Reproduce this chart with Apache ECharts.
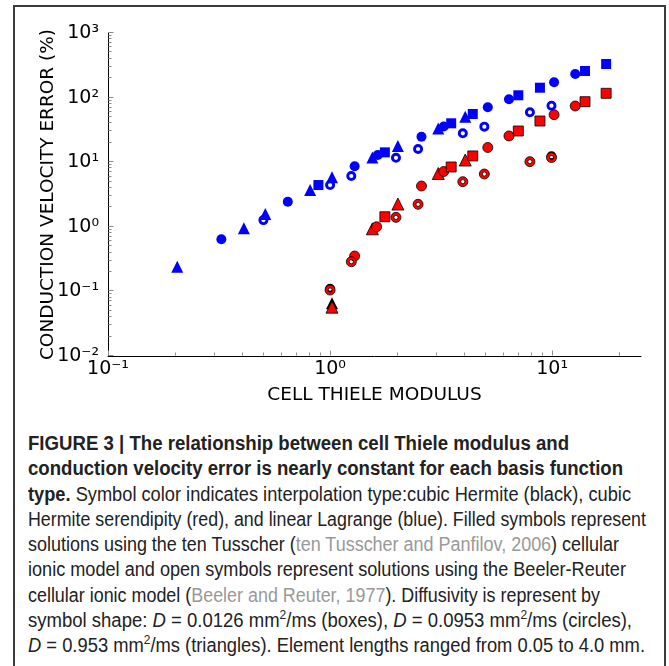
<!DOCTYPE html>
<html>
<head>
<meta charset="utf-8">
<script src="https://cdn.jsdelivr.net/npm/echarts@6/dist/echarts.min.js"></script>
<style>
  body { margin: 0; width: 669px; height: 666px; overflow: hidden; position: relative; background: #fff; }
  #frame { position: absolute; left: 13px; top: 5px; width: 649px; height: 700px; border: 2px solid #3c3c3c; }
  #chart { position: absolute; left: 0; top: 0; width: 669px; height: 420px; }
  #caption { position: absolute; left: 28px; top: 431px; font-family: "Liberation Sans", Arial, sans-serif; font-size: 20px; color: #222; }
  #caption .line { height: 25.3px; line-height: 25.3px; white-space: nowrap; }
  #caption .line span.t { display: inline-block; transform-origin: 0 50%; }
  #caption .ref { color: #999; }
  #caption sup { font-size: 13px; line-height: 0; vertical-align: 8px; }
</style>
</head>
<body>
<div id="frame"></div>
<div id="chart"></div>
<div id="caption">
  <div class="line"><span class="t"><b>FIGURE 3 | The relationship between cell Thiele modulus and</b></span></div>
  <div class="line"><span class="t"><b>conduction velocity error is nearly constant for each basis function</b></span></div>
  <div class="line"><span class="t"><b>type.</b> Symbol color indicates interpolation type:cubic Hermite (black), cubic</span></div>
  <div class="line"><span class="t">Hermite serendipity (red), and linear Lagrange (blue). Filled symbols represent</span></div>
  <div class="line"><span class="t">solutions using the ten Tusscher (<span class="ref">ten Tusscher and Panfilov, 2006</span>) cellular</span></div>
  <div class="line"><span class="t">ionic model and open symbols represent solutions using the Beeler-Reuter</span></div>
  <div class="line"><span class="t">cellular ionic model (<span class="ref">Beeler and Reuter, 1977</span>). Diffusivity is represent by</span></div>
  <div class="line"><span class="t">symbol shape: <i>D</i> = 0.0126 mm<sup>2</sup>/ms (boxes), <i>D</i> = 0.0953 mm<sup>2</sup>/ms (circles),</span></div>
  <div class="line"><span class="t"><i>D</i> = 0.953 mm<sup>2</sup>/ms (triangles). Element lengths ranged from 0.05 to 4.0 mm.</span></div>
</div>
<script>
// [cell Thiele modulus, conduction velocity error %]
const blueTriangle = [[0.205,0.241],[0.409,0.948],[0.511,1.58],[0.813,3.71],[1.02,5.84],[1.55,11.8],[2.02,17.8],[3.07,33.2],[4.06,50.6]];
const blueCircle = [[0.324,0.643],[0.645,2.44],[1.29,8.64],[1.64,12.9],[2.58,24.8],[3.25,35.7],[5.13,70.8],[6.39,94.1],[10.2,172.6],[12.7,231.9]];
const blueSquare = [[0.886,4.43],[1.765,14.2],[3.51,40.0],[4.39,55.7],[7.04,108.6],[8.81,142.3],[14.06,258],[17.5,331]];
const blueOpenCircle = [[0.501,1.27],[1.0,4.43],[1.246,6.11],[1.98,11.7],[2.49,16.0],[3.96,28.0],[4.95,35.5],[7.94,59.2],[9.93,75.0]];

const redTriangle = [[1.02,0.057],[1.55,0.93],[2.02,2.25],[3.07,6.68],[4.06,10.8]];
const redCircle = [[1.29,0.353],[1.62,1.0],[2.58,4.28],[3.25,7.18],[5.13,16.9],[6.39,25.5],[10.2,54.4],[12.7,74.1]];
const redSquare = [[1.765,1.43],[3.51,8.43],[4.39,12.5],[7.04,30.4],[8.81,43.4],[14.06,86.4],[17.5,116.6]];
const redOpenCircle = [[1.0,0.105],[1.246,0.288],[1.98,1.40],[2.49,2.23],[3.96,4.99],[4.95,6.56],[7.94,10.2],[9.93,11.8]];

const blackTriangle = [[1.02,0.0655]];
const blackOpenCircle = [[1.0,0.11],[9.93,12.4]];

const xMin = 0.1, xMax = 25.12, yMin = 0.01, yMax = 1000;
const xMajorTicks = [0.1, 1, 10];
const yMajorTicks = [0.01, 0.1, 1, 10, 100, 1000];
const tickLabels = { '-2': '10⁻²', '-1': '10⁻¹', '0': '10⁰', '1': '10¹', '2': '10²', '3': '10³' };
const xMinorTicks = [];
[0.1, 1, 10].forEach(d => { for (let k = 2; k <= 9; k++) if (d * k < xMax) xMinorTicks.push(d * k); });
xMinorTicks.push(20);
const yMinorTicks = [];
[0.01, 0.1, 1, 10, 100].forEach(d => { for (let k = 2; k <= 9; k++) yMinorTicks.push(d * k); });

const caption_right = [569, 623, 631, 646, 619, 626, 600, 632, 645];

const ring = 'path://M0,-5A5,5 0 1,1 0,5A5,5 0 1,1 0,-5ZM0,-2.1A2.1,2.1 0 1,0 0,2.1A2.1,2.1 0 1,0 0,-2.1Z';
const BLUE = '#0000ff', RED = '#ff0000';

function pow10Label(v) {
  const e = Math.round(Math.log10(v));
  if (Math.abs(Math.log10(v) - e) > 1e-6) return '';
  return tickLabels[String(e)] || '';
}

function scatter(data, symbol, size, color, edge) {
  return {
    type: 'scatter', data: data, symbol: symbol, symbolSize: size,
    itemStyle: { color: color, borderColor: edge || color, borderWidth: edge ? 0.8 : 0, opacity: 1 },
    emphasis: { disabled: true }
  };
}

function tickSeries(data, horizontal) {
  return {
    type: 'custom', silent: true, z: 5,
    data: data,
    renderItem: function (params, api) {
      const p = api.coord([api.value(0), api.value(1)]);
      const len = api.value(2);
      const x = Math.round(p[0]) + 0.5, y = Math.round(p[1]) - 0.5;
      const shape = horizontal ? { x1: x, y1: y, x2: x + len, y2: y } : { x1: x, y1: y, x2: x, y2: y - len };
      return { type: 'line', shape: shape, style: { stroke: '#8a8a8a', lineWidth: 1 } };
    }
  };
}

const xTickData = xMajorTicks.map(v => [v, yMin, 5]).concat(xMinorTicks.map(v => [v, yMin, 3]));
const yTickData = yMajorTicks.map(v => [xMin, v, 5]).concat(yMinorTicks.map(v => [xMin, v, 3]));

const nameStyle = { fontSize: 18.5, fontFamily: 'DejaVu Sans', color: '#000' };
const labelStyle = { fontSize: 19, fontFamily: 'DejaVu Sans', color: '#000' };

const chart = echarts.init(document.getElementById('chart'), null, { renderer: 'canvas' });
chart.setOption({
  animation: false,
  grid: { left: 108, right: 28, top: 33, height: 323 },
  xAxis: {
    type: 'log', logBase: 10, min: xMin, max: xMax,
    name: 'CELL THIELE MODULUS', nameLocation: 'middle', nameGap: 30, nameMoveOverlap: false,
    nameTextStyle: Object.assign({ verticalAlign: 'top' }, nameStyle),
    axisLine: { show: true, lineStyle: { color: '#000', width: 1 } },
    axisTick: { show: false },
    splitLine: { show: false },
    axisLabel: Object.assign({ formatter: pow10Label, margin: 4, showMinLabel: true, showMaxLabel: false }, labelStyle)
  },
  yAxis: {
    type: 'log', logBase: 10, min: yMin, max: yMax,
    name: 'CONDUCTION VELOCITY ERROR (%)', nameLocation: 'middle', nameGap: 50, nameMoveOverlap: false,
    nameTextStyle: nameStyle,
    axisLine: { show: true, lineStyle: { color: '#000', width: 1 } },
    axisTick: { show: false },
    splitLine: { show: false },
    axisLabel: Object.assign({ formatter: pow10Label, margin: 9 }, labelStyle)
  },
  series: [
    scatter(blackTriangle, 'triangle', 12, '#000'),
    scatter(blackOpenCircle, ring, 10, '#000'),
    scatter(redTriangle, 'triangle', 12, RED, '#000'),
    scatter(redCircle, 'circle', 10, RED, '#000'),
    scatter(redSquare, 'rect', 10, RED, '#000'),
    scatter(redOpenCircle, ring, 10, RED, '#000'),
    scatter(blueTriangle, 'triangle', 12, BLUE),
    scatter(blueCircle, 'circle', 10, BLUE),
    scatter(blueSquare, 'rect', 10, BLUE),
    scatter(blueOpenCircle, ring, 10, BLUE),
    tickSeries(xTickData, false),
    tickSeries(yTickData, true)
  ]
});

// fit caption lines to the reference widths
document.querySelectorAll('#caption .line span.t').forEach((el, i) => {
  const w = el.getBoundingClientRect().width;
  const target = caption_right[i] - 28;
  el.style.transform = 'scaleX(' + (target / w).toFixed(4) + ')';
});
</script>
</body>
</html>
